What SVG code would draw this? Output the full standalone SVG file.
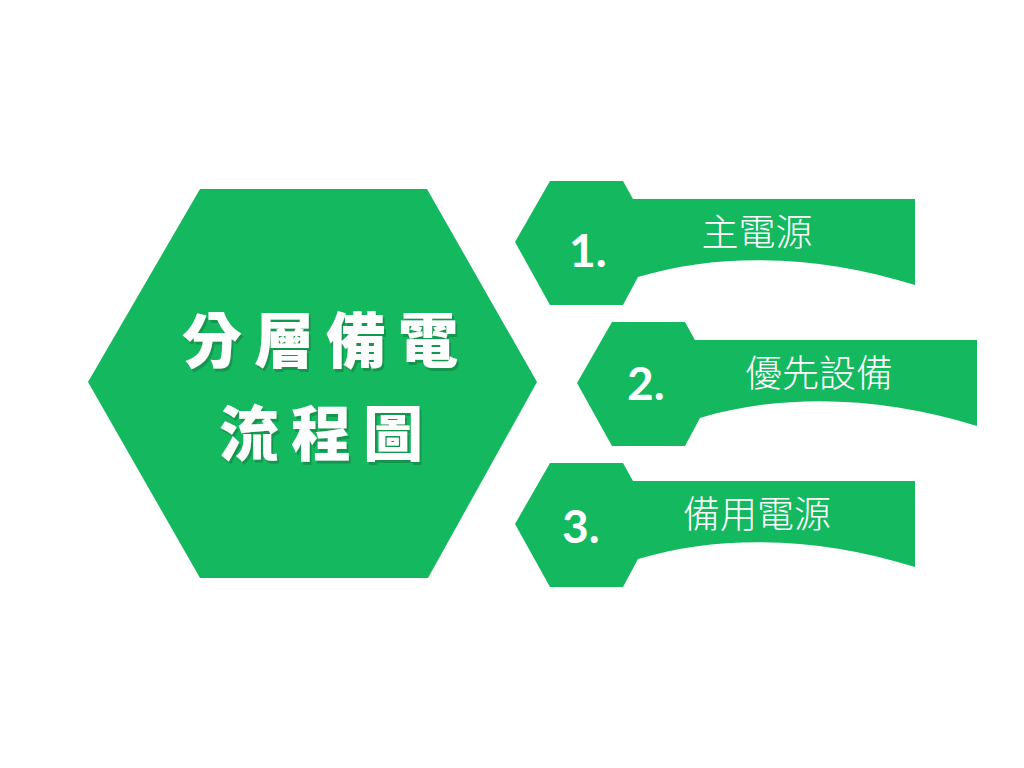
<svg xmlns="http://www.w3.org/2000/svg" width="1024" height="768" viewBox="0 0 1024 768">
  <style>
    .shape { fill: #14B95F; }
    .title { font-family: "Noto Sans CJK TC", "Noto Sans CJK SC", sans-serif; font-weight: 900; font-size: 60px; fill: #ffffff; letter-spacing: 12px; text-anchor: middle; }
    .num { font-family: "Lato", "Open Sans", sans-serif; font-weight: 700; font-size: 46px; fill: #ffffff; }
    .label { font-family: "Noto Sans CJK TC", "Noto Sans CJK SC", sans-serif; font-weight: 300; font-size: 37px; fill: #ffffff; text-anchor: middle; }
  </style>
  <defs>
    <filter id="sh" x="-10%" y="-10%" width="120%" height="130%">
      <feDropShadow dx="2" dy="3" stdDeviation="0.6" flood-color="#0b7a3c" flood-opacity="0.55"/>
    </filter>
    <path id="banner" d="M515,242 L550,181 L623,181 L633,199 L915,199 L915,285 C820,255 720,252 638,277 L623,305 L550,305 Z"/>
  </defs>
  <rect width="1024" height="768" fill="#ffffff"/>

  <g id="hub">
    <polygon class="shape" points="88,382 200,189 427,189 537,382 428,578 200,578"/>
    <text class="title" x="326" y="363" filter="url(#sh)">分層備電</text>
    <text class="title" x="327" y="456" filter="url(#sh)">流程圖</text>
  </g>

  <g id="connectors"></g>

  <g id="step1">
    <use href="#banner" class="shape"/>
    <text class="num" x="569" y="267">1.</text>
    <text class="label" x="757" y="246">主電源</text>
  </g>

  <g id="step2" transform="translate(62,141)">
    <use href="#banner" class="shape"/>
    <text class="num" x="565" y="259">2.</text>
    <text class="label" x="757" y="246">優先設備</text>
  </g>

  <g id="step3" transform="translate(0,282)">
    <use href="#banner" class="shape"/>
    <text class="num" x="562" y="261">3.</text>
    <text class="label" x="757" y="246">備用電源</text>
  </g>
</svg>
